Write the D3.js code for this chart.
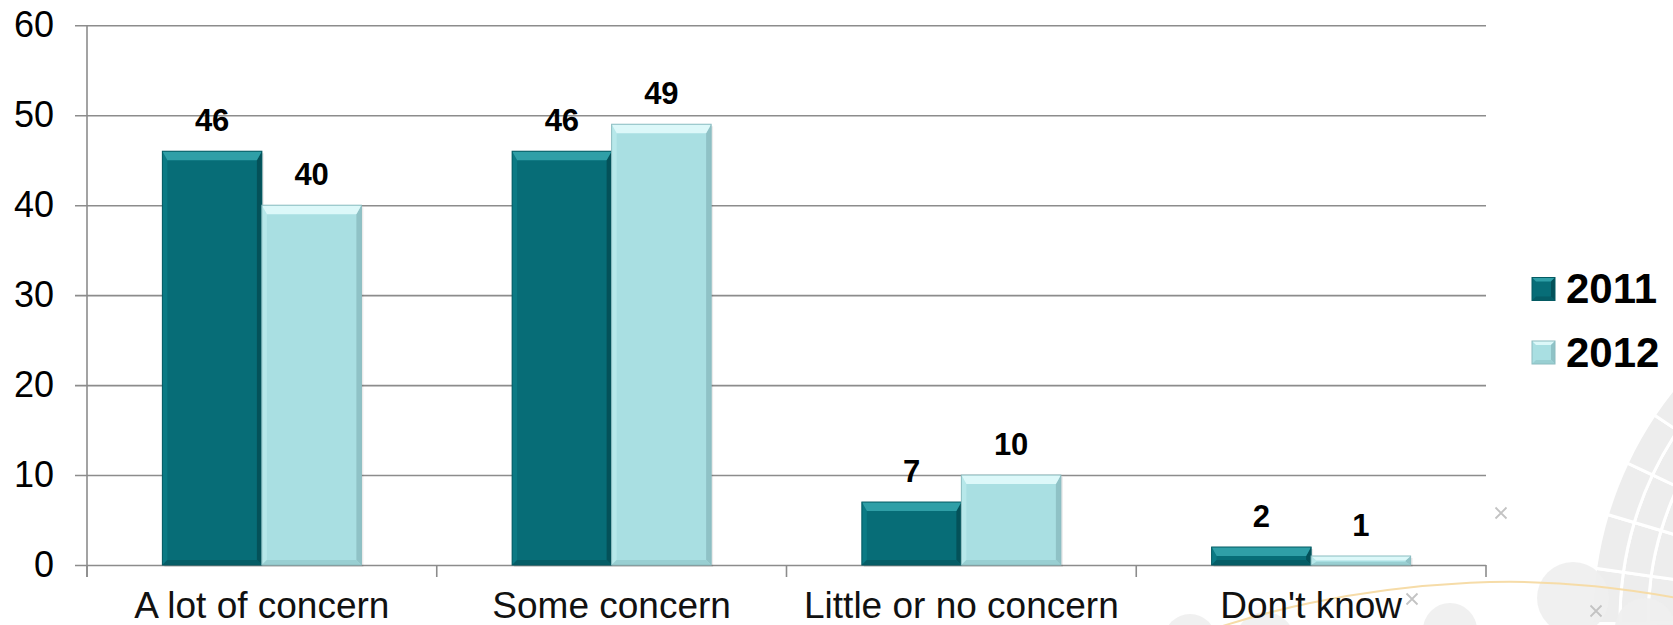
<!DOCTYPE html>
<html>
<head>
<meta charset="utf-8">
<script src="https://cdn.jsdelivr.net/npm/d3@7/dist/d3.min.js"></script>
<style>
  html, body { margin: 0; padding: 0; background: #ffffff; }
  svg { display: block; }
  text { font-family: "Liberation Sans", Arial, sans-serif; }
</style>
</head>
<body>
<svg id="chart" width="1673" height="625"></svg>
<script>
// Survey responses by level of concern, 2011 vs 2012 (percent)
const categories = ["A lot of concern", "Some concern", "Little or no concern", "Don't know"];
const seriesNames = ["2011", "2012"];
const values2011 = [46, 46, 7, 2];
const values2012 = [40, 49, 10, 1];
const yTicks = [0, 10, 20, 30, 40, 50, 60];

const W = 1673, H = 625;
const plot = { left: 87, right: 1486, top: 25.3, bottom: 565 };

const svg = d3.select("#chart");

// ---- faint decorative background (lower right) ----
const deco = svg.append("g").attr("class", "deco");
const ringCenter = [1960, 620];
const ringArc = d3.arc();
const rings = [[150, 280], [280, 312], [312, 340], [340, 368]];
const angleCuts = [-1.75, -1.58, -1.43, -1.28, -1.13, -0.98, -0.84];
const ringG = deco.append("g").attr("transform", `translate(${ringCenter})`);
rings.forEach(([r0, r1]) => {
  for (let i = 0; i < angleCuts.length - 1; i++) {
    ringG.append("path")
      .attr("d", ringArc({ innerRadius: r0, outerRadius: r1, startAngle: angleCuts[i], endAngle: angleCuts[i + 1] }))
      .attr("fill", "#ededed")
      .attr("stroke", "#ffffff")
      .attr("stroke-width", 3);
  }
});
[[1265, 642, 30], [1450, 630, 27], [1573, 598, 36], [1645, 628, 30], [1190, 640, 26]].forEach(([cx, cy, r]) => {
  deco.append("circle").attr("cx", cx).attr("cy", cy).attr("r", r)
    .attr("fill", "#eeeeee").attr("opacity", 0.9);
});
deco.append("path")
  .attr("d", d3.line().curve(d3.curveBasis)([[1180, 640], [1300, 600], [1480, 578], [1600, 585], [1690, 600]]))
  .attr("fill", "none")
  .attr("stroke", "#f6dca8")
  .attr("stroke-width", 2);
[[1501, 513], [1412, 599], [1596, 611]].forEach(([cx, cy]) => {
  const s = 5.5;
  deco.append("path")
    .attr("d", `M${cx - s},${cy - s}L${cx + s},${cy + s}M${cx + s},${cy - s}L${cx - s},${cy + s}`)
    .attr("stroke", "#c3c3c3").attr("stroke-width", 1.8).attr("fill", "none");
});

// ---- scales ----
const x0 = d3.scaleBand().domain(categories).range([plot.left, plot.right]).padding(0);
const x1 = d3.scaleBand().domain(seriesNames)
  .range([x0.bandwidth() * 0.2155, x0.bandwidth() * 0.7845]).padding(0);
const y = d3.scaleLinear().domain([0, 60]).range([plot.bottom, plot.top]);

const gridColor = "#8c8c8c";

// ---- y axis with gridlines ----
const yAxis = svg.append("g")
  .attr("transform", `translate(${plot.left - 12},0)`)
  .call(d3.axisLeft(y).tickValues(yTicks).tickSize(-(plot.right - plot.left + 12)).tickPadding(21));
yAxis.select(".domain").remove();
yAxis.selectAll(".tick line").attr("stroke", gridColor).attr("stroke-width", 1.6);
yAxis.selectAll(".tick text")
  .attr("fill", "#000").attr("font-size", 36)
  .style("font-family", "'Liberation Sans', Arial, sans-serif");

// vertical axis line
svg.append("line")
  .attr("x1", plot.left).attr("x2", plot.left)
  .attr("y1", y(60)).attr("y2", plot.bottom + 12)
  .attr("stroke", gridColor).attr("stroke-width", 1.6);

// ---- x axis: labels plus tick marks at band boundaries ----
const xAxis = svg.append("g")
  .attr("transform", `translate(0,${plot.bottom})`)
  .call(d3.axisBottom(x0).tickSize(0).tickPadding(27));
xAxis.select(".domain").remove();
xAxis.selectAll(".tick text")
  .attr("fill", "#111").attr("font-size", 37)
  .style("font-family", "'Liberation Sans', Arial, sans-serif");

const boundaries = categories.map(c => x0(c)).concat([x0(categories[categories.length - 1]) + x0.bandwidth()]);
svg.append("g").selectAll("line").data(boundaries).join("line")
  .attr("x1", d => d).attr("x2", d => d)
  .attr("y1", plot.bottom).attr("y2", plot.bottom + 12)
  .attr("stroke", gridColor).attr("stroke-width", 1.6);

// ---- bars with bevelled faces ----
const palette = {
  "2011": { face: "#076d77", top: "#2f9fa7", left: "#0b7a84", right: "#045159", bottom: "#055d66", stroke: "#045a62" },
  "2012": { face: "#a9dfe2", top: "#dcf8f9", left: "#b7e8ea", right: "#8fc2c6", bottom: "#99cfd2", stroke: "#8bbcc0" }
};

const barData = [];
categories.forEach((c, i) => {
  barData.push({ cat: c, series: "2011", value: values2011[i] });
  barData.push({ cat: c, series: "2012", value: values2012[i] });
});

const bars = svg.append("g").selectAll("g.bar").data(barData).join("g").attr("class", "bar");
const poly = pts => "M" + pts.map(p => p.join(",")).join("L") + "Z";

bars.each(function (d) {
  const g = d3.select(this);
  const bx = x0(d.cat) + x1(d.series);
  const bw = x1.bandwidth();
  const by = y(d.value);
  const bh = y(0) - by;
  const col = palette[d.series];
  const bt = Math.min(9, bh / 2), bs = Math.min(5, bw / 4), bb = Math.min(5, bh / 3);

  // soft shadow
  g.append("rect").attr("x", bx + 2).attr("y", by + 2).attr("width", bw).attr("height", bh)
    .attr("fill", "#000").attr("opacity", 0.08);

  g.append("rect").attr("x", bx).attr("y", by).attr("width", bw).attr("height", bh).attr("fill", col.face);

  g.append("path").attr("fill", col.left)
    .attr("d", poly([[bx, by], [bx + bs, by + bt], [bx + bs, by + bh - bb], [bx, by + bh]]));
  g.append("path").attr("fill", col.right)
    .attr("d", poly([[bx + bw, by], [bx + bw - bs, by + bt], [bx + bw - bs, by + bh - bb], [bx + bw, by + bh]]));
  g.append("path").attr("fill", col.bottom)
    .attr("d", poly([[bx, by + bh], [bx + bs, by + bh - bb], [bx + bw - bs, by + bh - bb], [bx + bw, by + bh]]));
  g.append("path").attr("fill", col.top)
    .attr("d", poly([[bx, by], [bx + bw, by], [bx + bw - bs, by + bt], [bx + bs, by + bt]]));

  g.append("rect").attr("x", bx).attr("y", by).attr("width", bw).attr("height", bh)
    .attr("fill", "none").attr("stroke", col.stroke).attr("stroke-width", 1);
});

// value labels
svg.append("g").selectAll("text").data(barData).join("text")
  .attr("x", d => x0(d.cat) + x1(d.series) + x1.bandwidth() / 2)
  .attr("y", d => y(d.value) - 20)
  .attr("text-anchor", "middle")
  .attr("font-size", 31)
  .attr("font-weight", "bold")
  .attr("fill", "#000")
  .text(d => d.value);

// ---- legend ----
const legend = svg.append("g").attr("transform", "translate(1532,0)");
const legendRows = [{ name: "2011", cy: 289 }, { name: "2012", cy: 352.5 }];
legendRows.forEach(r => {
  const col = palette[r.name];
  const s = 23, x = 0, yy = r.cy - s / 2, b = 4;
  const gg = legend.append("g");
  gg.append("rect").attr("x", x).attr("y", yy).attr("width", s).attr("height", s).attr("fill", col.face);
  gg.append("path").attr("fill", col.top).attr("d", poly([[x, yy], [x + s, yy], [x + s - b, yy + b], [x + b, yy + b]]));
  gg.append("path").attr("fill", col.right).attr("d", poly([[x + s, yy], [x + s - b, yy + b], [x + s - b, yy + s - b], [x + s, yy + s]]));
  gg.append("path").attr("fill", col.bottom).attr("d", poly([[x, yy + s], [x + b, yy + s - b], [x + s - b, yy + s - b], [x + s, yy + s]]));
  gg.append("rect").attr("x", x).attr("y", yy).attr("width", s).attr("height", s)
    .attr("fill", "none").attr("stroke", col.stroke).attr("stroke-width", 1);
  gg.append("text").attr("x", 34).attr("y", r.cy + 14)
    .attr("font-size", 42).attr("font-weight", "bold").attr("fill", "#000")
    .text(r.name);
});
</script>
</body>
</html>
